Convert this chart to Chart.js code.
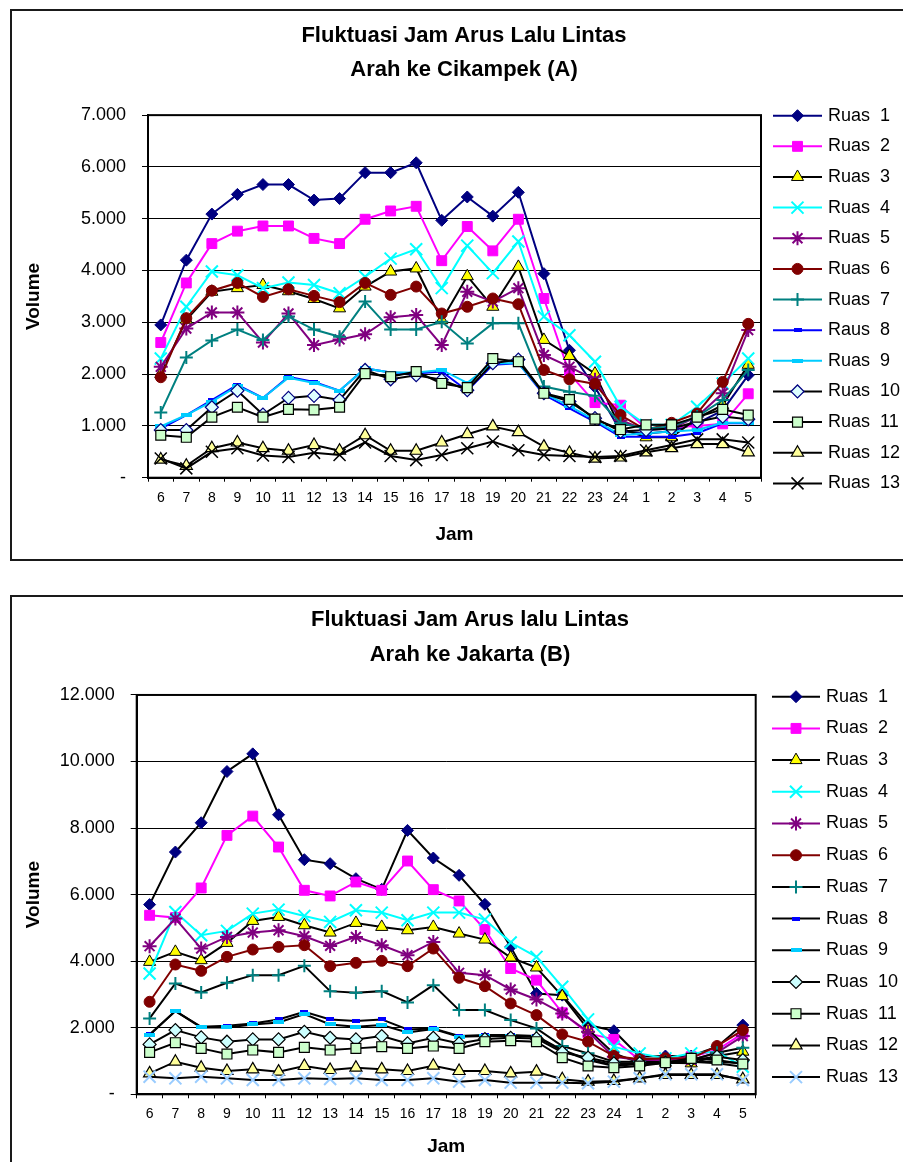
<!DOCTYPE html>
<html>
<head>
<meta charset="utf-8">
<title>Fluktuasi Jam Arus Lalu Lintas</title>
<script src="https://cdn.jsdelivr.net/npm/chart.js@4.4.1/dist/chart.umd.min.js"></script>
<style>
  html, body { margin: 0; padding: 0; background: #fff; overflow: hidden; width: 903px; height: 1162px; }
  .box { position: absolute; border: 2px solid #1a1a1a; background: #fff; }
  #boxA { left: 10px; top: 9px; width: 904px; height: 548px; }
  #boxB { left: 10px; top: 595px; width: 916px; height: 575px; }
  canvas { display: block; }
</style>
</head>
<body>
<div class="box" id="boxA"><canvas id="chartA" width="904" height="548"></canvas></div>
<div class="box" id="boxB"><canvas id="chartB" width="916" height="575"></canvas></div>
<script>
// hours on the x axis
const jam = ['6', '7', '8', '9', '10', '11', '12', '13', '14', '15', '16', '17',
             '18', '19', '20', '21', '22', '23', '24', '1', '2', '3', '4', '5'];

// Arah ke Cikampek (A)
const ruasA1  = [2950, 4200, 5090, 5470, 5660, 5660, 5360, 5390, 5890, 5890, 6080, 4970, 5420, 5050, 5510, 3940, 2460, 1750, 900, 850, 900, 1050, 1300, 1980];
const ruasA2  = [2610, 3760, 4520, 4760, 4860, 4860, 4620, 4520, 4990, 5150, 5240, 4190, 4850, 4380, 4990, 3460, 2010, 1450, 1400, 950, 980, 1000, 1040, 1620];
const ruasA3  = [2000, 3050, 3590, 3660, 3720, 3600, 3450, 3270, 3690, 3980, 4040, 3040, 3890, 3300, 4070, 2660, 2350, 2010, 950, 780, 780, 1150, 1400, 2180];
const ruasA4  = [2300, 3300, 3980, 3910, 3660, 3770, 3720, 3560, 3880, 4230, 4410, 3660, 4480, 3950, 4560, 3110, 2750, 2240, 1370, 1020, 1020, 1370, 1820, 2300];
const ruasA5  = [2140, 2880, 3190, 3190, 2610, 3170, 2560, 2670, 2770, 3100, 3140, 2560, 3590, 3400, 3660, 2370, 2140, 1890, 1110, 920, 950, 1180, 1630, 2850];
const ruasA6  = [1940, 3080, 3610, 3760, 3490, 3640, 3510, 3390, 3760, 3530, 3690, 3170, 3300, 3460, 3350, 2080, 1900, 1810, 1210, 920, 1060, 1240, 1850, 2970];
const ruasA7  = [1260, 2320, 2650, 2860, 2660, 3110, 2860, 2720, 3400, 2860, 2860, 3010, 2590, 2980, 2980, 1760, 1660, 1580, 1050, 950, 990, 1180, 1500, 2080];
const ruasA8  = [950, 1210, 1500, 1790, 1540, 1950, 1850, 1680, 2110, 2030, 2010, 2050, 1680, 2180, 2210, 1600, 1340, 1080, 790, 790, 790, 860, 1050, 1050];
const ruasA9  = [990, 1210, 1470, 1770, 1540, 1930, 1830, 1680, 2110, 2030, 2030, 2080, 1830, 2210, 2210, 1630, 1380, 1110, 820, 860, 890, 920, 1060, 1060];
const ruasA10 = [920, 920, 1360, 1680, 1220, 1540, 1580, 1500, 2080, 1900, 1980, 1890, 1690, 2210, 2280, 1630, 1470, 1150, 890, 920, 950, 1080, 1180, 1130];
const ruasA11 = [820, 780, 1170, 1360, 1170, 1320, 1310, 1360, 2010, 1950, 2050, 1820, 1740, 2300, 2240, 1630, 1510, 1130, 930, 1020, 1020, 1170, 1320, 1210];
const ruasA12 = [350, 230, 570, 680, 570, 520, 630, 520, 820, 520, 520, 680, 840, 990, 880, 600, 480, 370, 390, 490, 570, 650, 650, 490];
const ruasA13 = [370, 180, 500, 570, 430, 400, 480, 440, 680, 420, 340, 440, 570, 700, 530, 440, 420, 400, 420, 530, 630, 740, 740, 680];

// Arah ke Jakarta (B)
const ruasB1  = [5700, 7280, 8160, 9700, 10230, 8400, 7050, 6930, 6480, 6160, 7930, 7100, 6580, 5710, 4430, 3030, 2980, 2080, 1910, 1130, 1150, 1150, 1430, 2080];
const ruasB2  = [5380, 5310, 6200, 7780, 8360, 7430, 6130, 5960, 6380, 6130, 7010, 6150, 5810, 4950, 3780, 3430, 2450, 1830, 1650, 1030, 1030, 1130, 1330, 1830];
const ruasB3  = [3980, 4280, 4030, 4550, 5210, 5330, 5080, 4860, 5150, 5030, 4930, 5030, 4830, 4650, 4110, 3810, 2950, 1950, 1230, 950, 950, 930, 1150, 1280];
const ruasB4  = [3630, 5480, 4780, 4910, 5430, 5550, 5360, 5180, 5530, 5460, 5230, 5460, 5460, 5250, 4560, 4130, 3230, 2250, 1430, 1230, 1080, 1230, 1280, 830];
const ruasB5  = [4450, 5280, 4380, 4730, 4860, 4930, 4750, 4460, 4730, 4480, 4180, 4580, 3650, 3580, 3150, 2850, 2430, 1880, 1130, 1030, 1050, 1030, 1250, 1750];
const ruasB6  = [2780, 3900, 3710, 4130, 4350, 4430, 4480, 3850, 3950, 4010, 3850, 4380, 3500, 3250, 2730, 2380, 1800, 1580, 1150, 1050, 1080, 1080, 1450, 1930];
const ruasB7  = [2280, 3330, 3060, 3350, 3580, 3580, 3860, 3100, 3050, 3100, 2760, 3280, 2530, 2530, 2230, 1980, 1450, 1230, 980, 980, 980, 1030, 1250, 1400];
const ruasB8  = [1800, 2500, 2030, 2060, 2130, 2250, 2480, 2250, 2200, 2250, 1950, 1980, 1750, 1780, 1780, 1750, 1330, 1050, 880, 930, 950, 980, 980, 930];
const ruasB9  = [1780, 2500, 2010, 2010, 2100, 2160, 2410, 2100, 2030, 2080, 1860, 1960, 1730, 1750, 1750, 1730, 1310, 1030, 850, 910, 930, 980, 930, 830];
const ruasB10 = [1500, 1930, 1710, 1580, 1650, 1650, 1880, 1700, 1650, 1750, 1530, 1700, 1530, 1660, 1700, 1680, 1260, 1100, 930, 930, 950, 1030, 1130, 1030];
const ruasB11 = [1260, 1550, 1380, 1210, 1330, 1260, 1410, 1330, 1380, 1430, 1380, 1450, 1380, 1580, 1610, 1580, 1100, 850, 800, 850, 950, 1080, 1030, 910];
const ruasB12 = [630, 980, 800, 700, 750, 680, 850, 730, 800, 750, 700, 860, 700, 700, 630, 680, 450, 380, 400, 480, 580, 580, 580, 450];
const ruasB13 = [530, 480, 530, 480, 430, 430, 480, 460, 480, 430, 430, 480, 380, 430, 350, 350, 350, 330, 380, 480, 600, 600, 600, 430];

const seriesA = [ruasA1, ruasA2, ruasA3, ruasA4, ruasA5, ruasA6, ruasA7, ruasA8, ruasA9, ruasA10, ruasA11, ruasA12, ruasA13];
const seriesB = [ruasB1, ruasB2, ruasB3, ruasB4, ruasB5, ruasB6, ruasB7, ruasB8, ruasB9, ruasB10, ruasB11, ruasB12, ruasB13];

const namesA = ['Ruas  1', 'Ruas  2', 'Ruas  3', 'Ruas  4', 'Ruas  5', 'Ruas  6', 'Ruas  7',
                'Raus  8', 'Ruas  9', 'Ruas  10', 'Ruas  11', 'Ruas  12', 'Ruas  13'];
const namesB = ['Ruas  1', 'Ruas  2', 'Ruas  3', 'Ruas  4', 'Ruas  5', 'Ruas  6', 'Ruas  7',
                'Ruas  8', 'Ruas  9', 'Ruas  10', 'Ruas  11', 'Ruas  12', 'Ruas  13'];

const FONT = '"Liberation Sans", Arial, sans-serif';

// small flat dash used as marker for Ruas 8 / 9
function dash(w, h, color) {
    const c = document.createElement('canvas');
    c.width = w; c.height = h;
    const g = c.getContext('2d');
    g.fillStyle = color;
    g.fillRect(0, 0, w, h);
    return c;
}

// line colour, marker, marker fill, marker edge
const stylesA = [
    { line: '#000080', pt: 'rectRot', r: 6, fill: '#000080', edge: '#000080', bw: 1 },
    { line: '#FF00FF', pt: 'rect', r: 7, fill: '#FF00FF', edge: '#FF00FF', bw: 1 },
    { line: '#000000', pt: 'triangle', r: 7, fill: '#FFFF00', edge: '#000000', bw: 1 },
    { line: '#00FFFF', pt: 'crossRot', r: 8.5, fill: '#00FFFF', edge: '#00FFFF', bw: 2 },
    { line: '#800080', pt: 'star', r: 7, fill: '#800080', edge: '#800080', bw: 2 },
    { line: '#800000', pt: 'circle', r: 5.5, fill: '#800000', edge: '#800000', bw: 1 },
    { line: '#008080', pt: 'cross', r: 6.5, fill: '#008080', edge: '#008080', bw: 2 },
    { line: '#0000FF', pt: dash(8, 4, '#0000FF'), r: 4, fill: '#0000FF', edge: '#0000FF', bw: 0 },
    { line: '#00CCFF', pt: dash(11, 4, '#00CCFF'), r: 5, fill: '#00CCFF', edge: '#00CCFF', bw: 0 },
    { line: '#000000', pt: 'rectRot', r: 6.5, fill: '#DDFFFF', edge: '#000080', bw: 1.2 },
    { line: '#000000', pt: 'rect', r: 7, fill: '#CCFFCC', edge: '#000000', bw: 1.2 },
    { line: '#000000', pt: 'triangle', r: 7, fill: '#FFFF99', edge: '#000000', bw: 1.2 },
    { line: '#000000', pt: 'crossRot', r: 8.5, fill: '#000000', edge: '#000000', bw: 1.5 }
];
const stylesB = [
    { line: '#000000', pt: 'rectRot', r: 6, fill: '#000080', edge: '#000080', bw: 1 },
    { line: '#FF00FF', pt: 'rect', r: 7, fill: '#FF00FF', edge: '#FF00FF', bw: 1 },
    { line: '#000000', pt: 'triangle', r: 7, fill: '#FFFF00', edge: '#000000', bw: 1 },
    { line: '#00FFFF', pt: 'crossRot', r: 8.5, fill: '#00FFFF', edge: '#00FFFF', bw: 2 },
    { line: '#800080', pt: 'star', r: 7, fill: '#800080', edge: '#800080', bw: 2 },
    { line: '#800000', pt: 'circle', r: 5.5, fill: '#800000', edge: '#800000', bw: 1 },
    { line: '#000000', pt: 'cross', r: 6.5, fill: '#008080', edge: '#008080', bw: 2 },
    { line: '#000000', pt: dash(8, 4, '#0000FF'), r: 4, fill: '#0000FF', edge: '#0000FF', bw: 0 },
    { line: '#000000', pt: dash(11, 4, '#00CCFF'), r: 5, fill: '#00CCFF', edge: '#00CCFF', bw: 0 },
    { line: '#000000', pt: 'rectRot', r: 6.5, fill: '#CCFFFF', edge: '#000000', bw: 1.2 },
    { line: '#000000', pt: 'rect', r: 7, fill: '#CCFFCC', edge: '#000000', bw: 1.2 },
    { line: '#000000', pt: 'triangle', r: 7, fill: '#FFFF99', edge: '#000000', bw: 1.2 },
    { line: '#000000', pt: 'crossRot', r: 8.5, fill: '#99CCFF', edge: '#99CCFF', bw: 2 }
];

function buildDatasets(series, names, styles) {
    return series.map((values, i) => ({
        label: names[i],
        data: values,
        borderColor: styles[i].line,
        borderWidth: 2,
        backgroundColor: styles[i].fill,
        pointStyle: styles[i].pt,
        pointRadius: styles[i].r,
        pointBackgroundColor: styles[i].fill,
        pointBorderColor: styles[i].edge,
        pointBorderWidth: styles[i].bw,
        tension: 0,
        fill: false,
        order: -i
    }));
}

// "7.000" style labels, "-" for zero
function volumeLabel(v) {
    if (v === 0) return '-';
    return String(v).replace(/\B(?=(\d{3})+(?!\d))/g, '.');
}

// frame around the plot area
const plotFrame = {
    id: 'plotFrame',
    beforeDatasetsDraw(chart) {
        const a = chart.chartArea, ctx = chart.ctx;
        ctx.save();
        ctx.strokeStyle = '#000';
        ctx.lineWidth = 2;
        ctx.strokeRect(a.left, a.top, a.right - a.left, a.bottom - a.top);
        ctx.restore();
    }
};

// Excel-like legend: short line with marker, then the name
const sideLegend = {
    id: 'sideLegend',
    afterDraw(chart, args, opts) {
        const ctx = chart.ctx;
        ctx.save();
        chart.data.datasets.forEach((ds, i) => {
            const y = opts.y0 + i * opts.dy;
            ctx.strokeStyle = ds.borderColor;
            ctx.lineWidth = 2;
            ctx.beginPath();
            ctx.moveTo(opts.x1, y);
            ctx.lineTo(opts.x2, y);
            ctx.stroke();
            ctx.fillStyle = ds.pointBackgroundColor;
            ctx.strokeStyle = ds.pointBorderColor;
            ctx.lineWidth = ds.pointBorderWidth;
            Chart.helpers.drawPoint(ctx, {
                pointStyle: ds.pointStyle,
                radius: ds.pointRadius,
                rotation: 0,
                borderWidth: ds.pointBorderWidth
            }, (opts.x1 + opts.x2) / 2, y);
            ctx.fillStyle = '#000';
            ctx.font = '18px ' + FONT;
            ctx.textBaseline = 'middle';
            ctx.textAlign = 'left';
            ctx.fillText(ds.label, opts.textX, y);
        });
        ctx.restore();
    }
};

function makeChart(id, cfg) {
    const ctx = document.getElementById(id).getContext('2d');
    return new Chart(ctx, {
        type: 'line',
        data: { labels: jam, datasets: cfg.datasets },
        options: {
            responsive: false,
            animation: false,
            devicePixelRatio: 1,
            events: [],
            layout: { padding: 0 },
            plugins: {
                legend: { display: false },
                tooltip: { enabled: false },
                title: {
                    display: true,
                    text: cfg.title,
                    color: '#000',
                    font: { family: FONT, size: 22, weight: 'bold', lineHeight: cfg.titleLine },
                    padding: cfg.titlePad
                },
                sideLegend: cfg.legend
            },
            scales: {
                x: {
                    offset: true,
                    afterFit(scale) { scale.height = cfg.xHeight; },
                    grid: { offset: true, drawOnChartArea: false, color: '#000', tickLength: 4 },
                    border: { color: '#000', width: 2 },
                    ticks: {
                        color: '#000', padding: cfg.xPad, maxRotation: 0, autoSkip: false,
                        font: { family: FONT, size: 14 }
                    },
                    title: {
                        display: true, text: 'Jam', color: '#000',
                        font: { family: FONT, size: 19, weight: 'bold' },
                        padding: { top: 0, bottom: cfg.jamPad }
                    }
                },
                y: {
                    min: 0,
                    max: cfg.yMax,
                    afterFit(scale) { scale.width = cfg.yWidth; },
                    grid: { color: '#000', lineWidth: 1, tickLength: 6 },
                    border: { color: '#000', width: 2 },
                    ticks: {
                        stepSize: cfg.yStep, color: '#000', padding: 16,
                        font: { family: FONT, size: 18 },
                        callback: volumeLabel
                    },
                    title: {
                        display: true, text: 'Volume', color: '#000',
                        font: { family: FONT, size: 19, weight: 'bold' },
                        padding: { top: 10, bottom: 0 }
                    }
                },
                // empty strip on the right that holds the legend
                side: {
                    position: 'right',
                    afterFit(scale) { scale.width = cfg.sideWidth; },
                    grid: { display: false },
                    border: { display: false },
                    ticks: { display: false }
                }
            }
        },
        plugins: [plotFrame, sideLegend]
    });
}

makeChart('chartA', {
    datasets: buildDatasets(seriesA, namesA, stylesA),
    title: ['Fluktuasi Jam Arus Lalu Lintas', 'Arah ke Cikampek (A)'],
    titleLine: 1.56,
    titlePad: { top: 7.5, bottom: 28 },
    sideWidth: 155,
    yWidth: 136,
    xHeight: 81.3,
    xPad: 8,
    jamPad: 13,
    yMax: 7000,
    yStep: 1000,
    legend: { x1: 761, x2: 810, textX: 816, y0: 104.7, dy: 30.64 }
});

makeChart('chartB', {
    datasets: buildDatasets(seriesB, namesB, stylesB),
    title: ['Fluktuasi Jam Arus lalu Lintas', 'Arah ke Jakarta (B)'],
    titleLine: 1.59,
    titlePad: { top: 5.5, bottom: 22.5 },
    sideWidth: 172.3,
    yWidth: 124.7,
    xHeight: 77.7,
    xPad: 7,
    jamPad: 14,
    yMax: 12000,
    yStep: 2000,
    legend: { x1: 760, x2: 808, textX: 814, y0: 99.7, dy: 31.7 }
});
</script>
</body>
</html>
